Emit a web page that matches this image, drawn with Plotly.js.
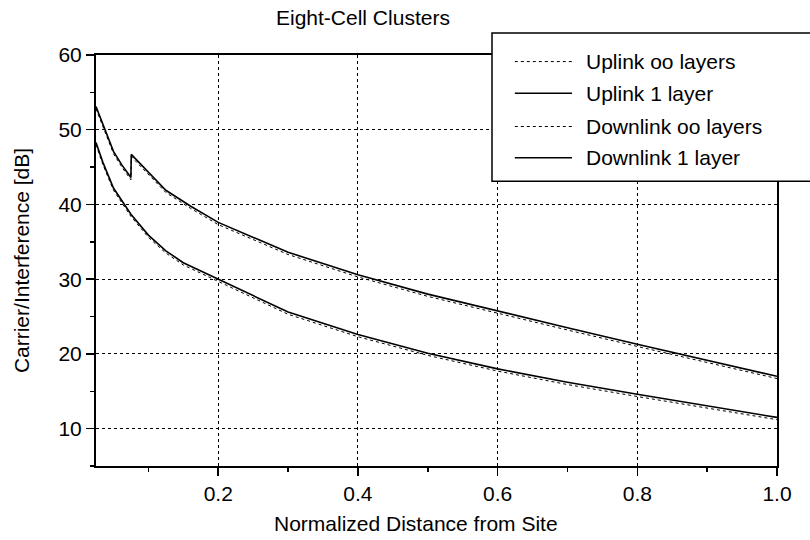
<!DOCTYPE html>
<html>
<head>
<meta charset="utf-8">
<script src="https://cdn.plot.ly/plotly-3.0.1.min.js"></script>
<style>html,body{margin:0;padding:0;background:#fff;}#chart{width:810px;height:540px;}</style>
</head>
<body>
<div id="chart"></div>
<script>
// Normalized distance from site (x) and C/I values in dB (y)
const upX1   = [0.025, 0.035, 0.05, 0.062, 0.075, 0.0755, 0.1, 0.125, 0.16, 0.2, 0.3, 0.4, 0.5, 0.6, 0.7, 0.8, 0.9, 1.0];
const upOne  = [53.1, 50.6, 47.1, 45.3, 43.6, 46.7, 44.3, 41.9, 39.8, 37.6, 33.6, 30.6, 28.0, 25.7, 23.5, 21.3, 19.1, 17.0];
const upInf  = [52.8, 50.3, 46.8, 45.0, 43.3, 46.4, 44.0, 41.6, 39.5, 37.3, 33.3, 30.3, 27.7, 25.4, 23.2, 21.0, 18.8, 16.7];
const dnX    = [0.025, 0.035, 0.05, 0.065, 0.075, 0.1, 0.125, 0.15, 0.2, 0.3, 0.4, 0.5, 0.6, 0.7, 0.8, 0.9, 1.0];
const dnOne  = [48.3, 45.6, 42.2, 40.0, 38.7, 35.9, 33.8, 32.2, 30.0, 25.6, 22.6, 20.1, 18.0, 16.2, 14.6, 13.0, 11.5];
const dnInf  = [48.0, 45.3, 41.9, 39.7, 38.4, 35.6, 33.5, 31.9, 29.7, 25.3, 22.3, 19.8, 17.7, 15.9, 14.3, 12.7, 11.2];
const seriesNames = ["Uplink oo layers", "Uplink 1 layer", "Downlink oo layers", "Downlink 1 layer"];
const xTickVals = [0.2, 0.4, 0.6, 0.8, 1.0];
const xTickText = ["0.2", "0.4", "0.6", "0.8", "1.0"];
const yTickVals = [10, 20, 30, 40, 50, 60];

const FONT = "Liberation Sans, Arial, Helvetica, sans-serif";
const FS = 21;
const dotted = {color: "#000", width: 1, dash: "dot"};
const solid = {color: "#000", width: 1.6};

const traces = [
  {x: upX1, y: upInf, name: seriesNames[0], mode: "lines", line: dotted},
  {x: dnX, y: dnInf, name: seriesNames[2], mode: "lines", line: dotted},
  {x: upX1, y: upOne, name: seriesNames[1], mode: "lines", line: solid},
  {x: dnX, y: dnOne, name: seriesNames[3], mode: "lines", line: solid}
];

// manual legend (box extends past the right edge as in the reference)
const legX0 = 0.5815, legX1 = 1.08, legY0 = 0.693, legY1 = 1.0535;
const rowY = [0.984, 0.907, 0.826, 0.750];
const rowStyle = [dotted, solid, dotted, solid];
const shapes = [
  {type: "rect", xref: "paper", yref: "paper", x0: legX0, x1: legX1, y0: legY0, y1: legY1,
   fillcolor: "#fff", line: {color: "#000", width: 1.5}, layer: "above"}
];
const annotations = [];
for (let i = 0; i < 4; i++) {
  shapes.push({type: "line", xref: "paper", yref: "paper", x0: 0.615, x1: 0.699, y0: rowY[i], y1: rowY[i],
    line: rowStyle[i], layer: "above"});
  annotations.push({xref: "paper", yref: "paper", x: 0.716, y: rowY[i], xanchor: "left", yanchor: "middle",
    text: seriesNames[i], showarrow: false, font: {family: FONT, size: FS, color: "#000"}});
}
annotations.push({xref: "paper", yref: "paper", x: 0.47, y: -0.139, xanchor: "center", yanchor: "middle",
  text: "Normalized Distance from Site", showarrow: false, font: {family: FONT, size: FS, color: "#000"}});

const layout = {
  width: 810, height: 540,
  margin: {l: 96, r: 33, t: 55, b: 74},
  paper_bgcolor: "#fff", plot_bgcolor: "#fff",
  showlegend: false,
  font: {family: FONT, size: FS, color: "#000"},
  title: {text: "Eight-Cell Clusters", x: 0.392, xref: "paper", xanchor: "center",
          y: 0.968, yref: "container", yanchor: "middle", font: {family: FONT, size: FS, color: "#000"}},
  xaxis: {
    range: [0.025, 1.0], tickvals: xTickVals, ticktext: xTickText,
    ticks: "outside", ticklen: 8, tickwidth: 1.5, tickcolor: "#000",
    minor: {dtick: 0.1, tick0: 0, ticks: "outside", ticklen: 4, tickwidth: 1.5, tickcolor: "#000", showgrid: false},
    showline: true, linecolor: "#000", linewidth: 2, mirror: true,
    showgrid: true, gridcolor: "#000", gridwidth: 1, griddash: "dot",
    zeroline: false, tickfont: {family: FONT, size: FS}
  },
  yaxis: {
    range: [5, 60], tickvals: yTickVals,
    ticks: "outside", ticklen: 8, tickwidth: 1.5, tickcolor: "#000",
    minor: {dtick: 5, tick0: 0, ticks: "outside", ticklen: 4, tickwidth: 1.5, tickcolor: "#000", showgrid: false},
    showline: true, linecolor: "#000", linewidth: 2, mirror: true,
    showgrid: true, gridcolor: "#000", gridwidth: 1, griddash: "dot",
    zeroline: false, tickfont: {family: FONT, size: FS},
    title: {text: "Carrier/Interference [dB]", standoff: 23, font: {family: FONT, size: FS}}
  },
  shapes: shapes,
  annotations: annotations
};

Plotly.newPlot("chart", traces, layout, {displayModeBar: false, staticPlot: true});
</script>
</body>
</html>
